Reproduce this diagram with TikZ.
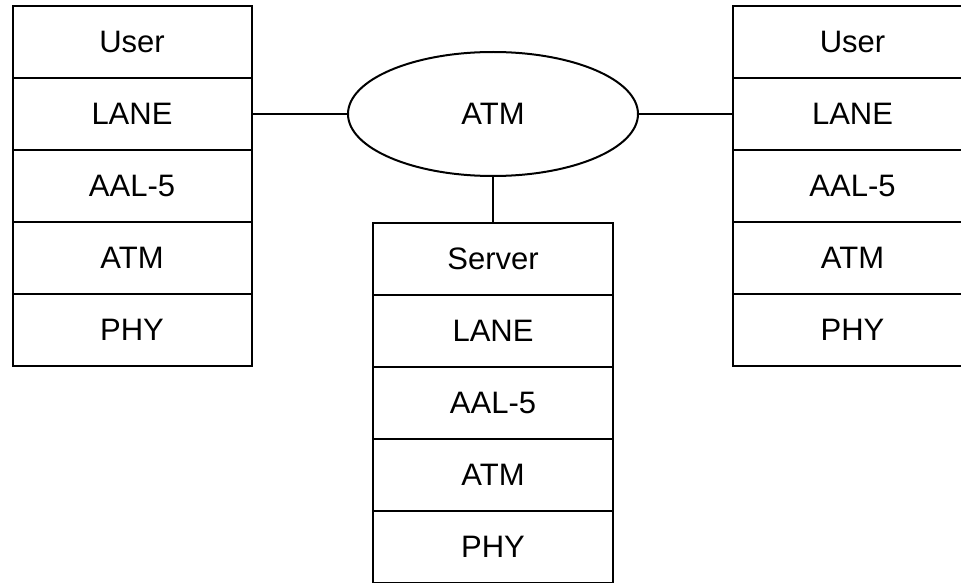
\documentclass[tikz,border=0pt]{standalone}
\usepackage{fontspec}
\setmainfont{Liberation Sans}
\usetikzlibrary{shapes.geometric}
\begin{document}
\begin{tikzpicture}[x=1pt,y=-1pt,
  every node/.style={font=\fontsize{31}{37}\selectfont},
  cell/.style={draw, line width=2pt, rectangle, minimum width=239pt,
    minimum height=72pt, inner sep=0pt, anchor=center},
  cloud/.style={draw, line width=2pt, ellipse, minimum width=290pt,
    minimum height=124pt, inner sep=0pt},
  link/.style={line width=2pt}]
\useasboundingbox (0,0) rectangle (961,583);
\clip (0,0) rectangle (961,583);

% left protocol stack
\node[cell] (L1) at (132,42)  {User};
\node[cell] (L2) at (132,114) {LANE};
\node[cell] (L3) at (132,186) {AAL-5};
\node[cell] (L4) at (132,258) {ATM};
\node[cell] (L5) at (132,330) {PHY};

% right protocol stack
\node[cell] (R1) at (852.5,42)  {User};
\node[cell] (R2) at (852.5,114) {LANE};
\node[cell] (R3) at (852.5,186) {AAL-5};
\node[cell] (R4) at (852.5,258) {ATM};
\node[cell] (R5) at (852.5,330) {PHY};

% server protocol stack
\node[cell, minimum width=240pt] (S1) at (493,259) {Server};
\node[cell, minimum width=240pt] (S2) at (493,331) {LANE};
\node[cell, minimum width=240pt] (S3) at (493,403) {AAL-5};
\node[cell, minimum width=240pt] (S4) at (493,475) {ATM};
\node[cell, minimum width=240pt] (S5) at (493,547) {PHY};

% ATM network
\node[cloud] (atm) at (493,114) {ATM};

\draw[link] (L2.east) -- (atm.west);
\draw[link] (atm.east) -- (R2.west);
\draw[link] (atm.south) -- (S1.north);
\end{tikzpicture}
\end{document}
